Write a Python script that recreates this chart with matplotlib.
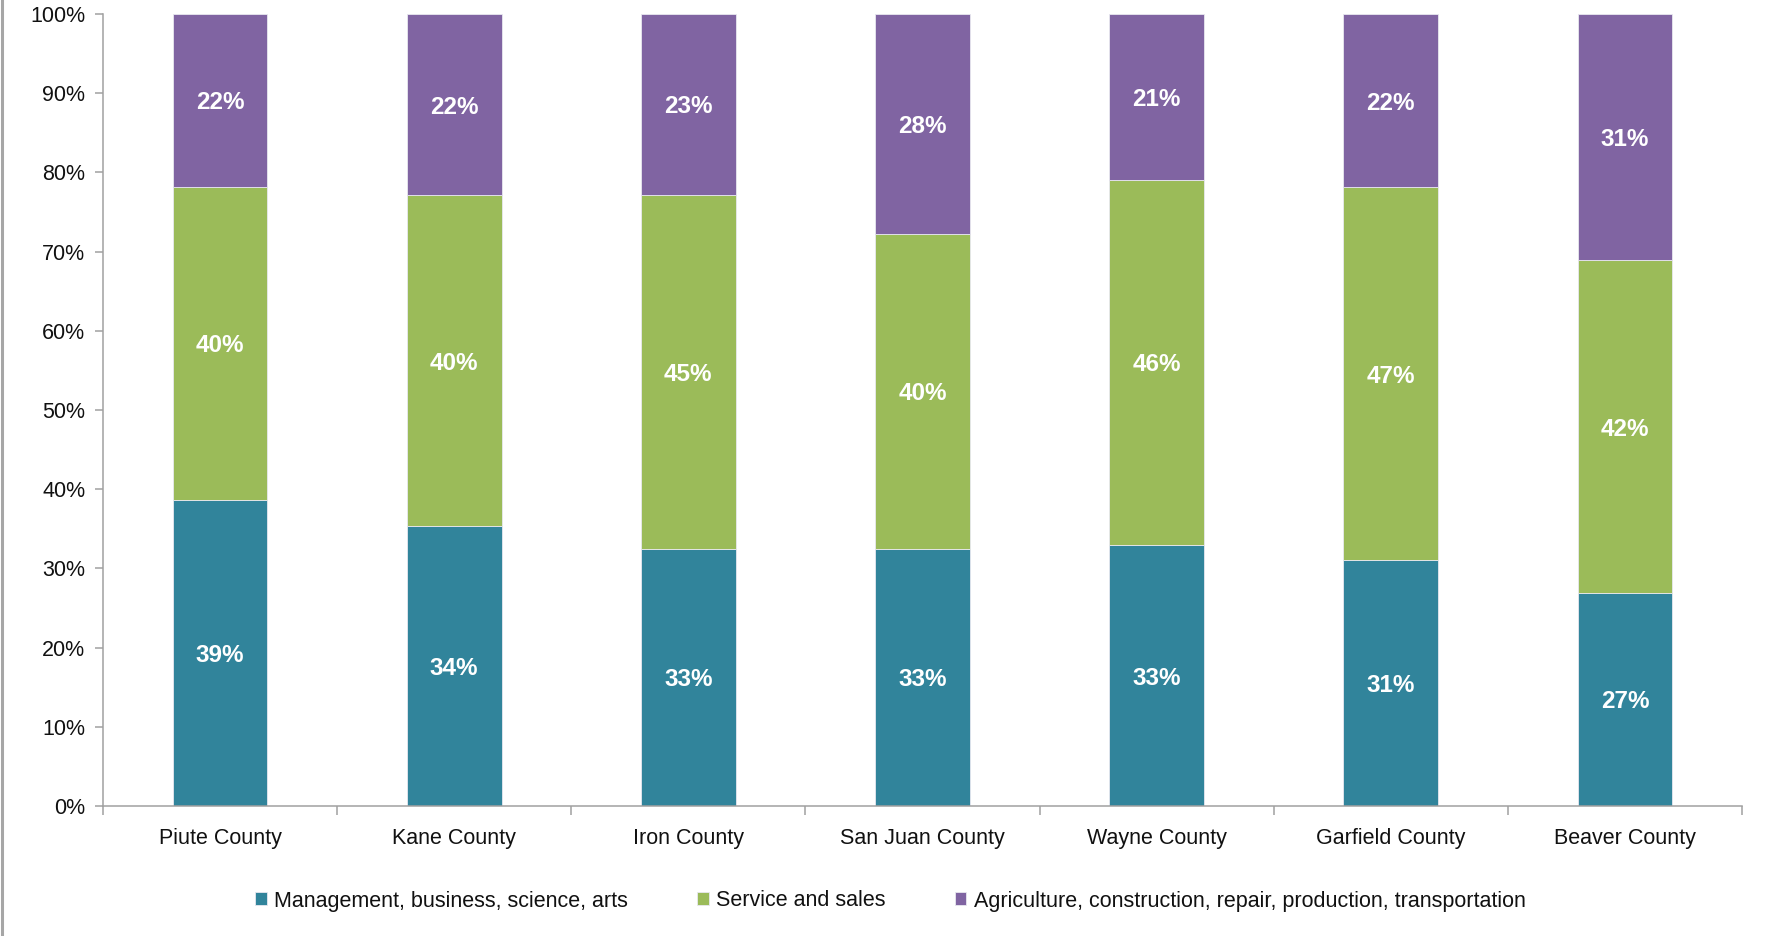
import numpy as np
import matplotlib
matplotlib.use('Agg')
import matplotlib.pyplot as plt
from matplotlib.ticker import FuncFormatter, FixedLocator
from matplotlib.lines import Line2D

# data (segment heights, percent)
counties = ['Piute County', 'Kane County', 'Iron County', 'San Juan County',
            'Wayne County', 'Garfield County', 'Beaver County']
management = [38.6, 35.3, 32.5, 32.5, 32.9, 31.1, 26.9]
service = [39.6, 41.8, 44.7, 39.7, 46.2, 47.0, 42.0]
agriculture = [21.8, 22.9, 22.8, 27.8, 20.9, 21.9, 31.1]

# labels as printed on the bars
management_lbl = ['39%', '34%', '33%', '33%', '33%', '31%', '27%']
service_lbl = ['40%', '40%', '45%', '40%', '46%', '47%', '42%']
agriculture_lbl = ['22%', '22%', '23%', '28%', '21%', '22%', '31%']

series = ['Management, business, science, arts', 'Service and sales',
          'Agriculture, construction, repair, production, transportation']
colors = ['#31849B', '#9BBB59', '#8064A2']

plt.rcParams['font.family'] = ['Liberation Sans', 'DejaVu Sans']

fig = plt.figure(figsize=(17.7, 9.36), dpi=100)
ax = fig.add_axes([103 / 1770, 1 - 806 / 936, (1742 - 103) / 1770, (806 - 14) / 936])

x = np.arange(len(counties))
width = 0.405
bottom = np.zeros(len(counties))
for vals, lbls, name, col in zip([management, service, agriculture],
                                 [management_lbl, service_lbl, agriculture_lbl],
                                 series, colors):
    vals = np.array(vals)
    ax.bar(x, vals, width, bottom=bottom, color=col, edgecolor='#E8E8F0',
           linewidth=0.6, label=name, zorder=2)
    for xi, b, v, t in zip(x, bottom, vals, lbls):
        ax.text(xi, b + v / 2, t, ha='center', va='center_baseline', color='white',
                fontsize=17.5, fontweight='bold',
                family=['Liberation Sans Narrow', 'Liberation Sans'])
    bottom = bottom + vals

ax.set_xlim(-0.5, len(counties) - 0.5)
ax.set_ylim(0, 100)
ax.set_yticks(np.arange(0, 101, 10))
ax.yaxis.set_major_formatter(FuncFormatter(lambda v, p: '%d%%' % v))
ax.set_xticks(x)
ax.set_xticklabels(counties)
ax.xaxis.set_minor_locator(FixedLocator(np.arange(-0.5, len(counties), 1.0)))

axis_col = '#A0A0A0'
for s in ['top', 'right']:
    ax.spines[s].set_visible(False)
for s in ['left', 'bottom']:
    ax.spines[s].set_color(axis_col)
    ax.spines[s].set_linewidth(1.1)

ax.tick_params(axis='y', direction='out', length=5.8, width=1.1, color=axis_col,
               labelsize=15.5, pad=7, labelcolor='#111111')
ax.tick_params(axis='x', which='major', length=0, labelsize=15.5, pad=16,
               labelcolor='#111111')
ax.tick_params(axis='x', which='minor', direction='out', length=6.5, width=1.1,
               color=axis_col)

leg = fig.legend(loc='center', bbox_to_anchor=(0.503, 1 - 901 / 936), ncol=3,
                 frameon=False, fontsize=15.5, handlelength=0.55, handleheight=0.55,
                 handletextpad=0.35, columnspacing=3.2)
for t in leg.get_texts():
    t.set_color('#111111')

# gray border at left edge of the screenshot
fig.add_artist(Line2D([0.0012, 0.0012], [0, 1], transform=fig.transFigure,
                      color='#A6A6A6', linewidth=2.2))

fig.savefig('out.png', dpi=100)
